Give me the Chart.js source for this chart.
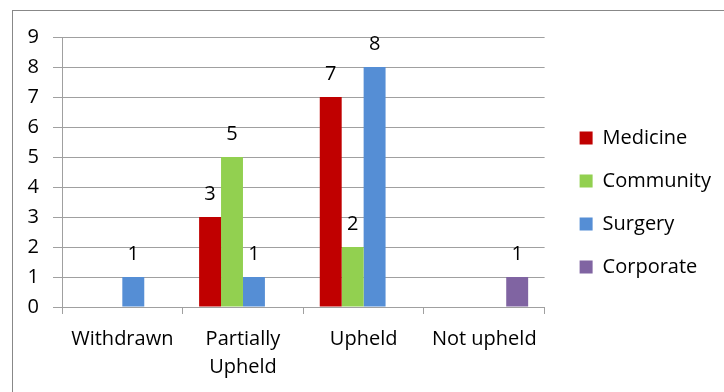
<!DOCTYPE html>
<html>
<head>
<meta charset="utf-8">
<script src="https://cdn.jsdelivr.net/npm/chart.js@4/dist/chart.umd.min.js"></script>
<style>
  html, body { margin: 0; padding: 0; background: #fff; }
</style>
</head>
<body>
<canvas id="complaints" width="724" height="392"></canvas>
<script>
// complaint outcomes by division
const outcomes = [['Withdrawn'], ['Partially', 'Upheld'], ['Upheld'], ['Not upheld']];
const medicine = [null, 3, 7, null];
const community = [null, 5, 2, null];
const surgery = [1, 1, 8, null];
const corporate = [null, null, null, 1];
const yMax = 9;

const FONT = '"Open Sans", sans-serif';
const GRID = '#a0a0a0';

// value printed above each bar
const valueLabels = {
  id: 'valueLabels',
  afterDatasetsDraw(chart) {
    const ctx = chart.ctx;
    ctx.save();
    ctx.font = '20px ' + FONT;
    ctx.fillStyle = '#000';
    ctx.textAlign = 'center';
    ctx.textBaseline = 'middle';
    chart.data.datasets.forEach((ds, i) => {
      chart.getDatasetMeta(i).data.forEach((bar, j) => {
        const v = ds.data[j];
        if (v == null) return;
        ctx.fillText(String(v), bar.x, bar.y - 23);
      });
    });
    ctx.restore();
  }
};

// outer frame + nudge the legend away from the plot
const frame = {
  id: 'frame',
  afterLayout(chart) {
    const lg = chart.legend;
    lg.left += 12; lg.right += 12;
    lg.top -= 12; lg.bottom -= 12;
  },
  beforeDraw(chart) {
    const ctx = chart.ctx;
    ctx.save();
    ctx.strokeStyle = '#888';
    ctx.lineWidth = 1;
    ctx.strokeRect(12.5, 10.5, 760, 420);
    ctx.restore();
  }
};

new Chart(document.getElementById('complaints'), {
  type: 'bar',
  data: {
    labels: outcomes,
    datasets: [
      { label: 'Medicine', data: medicine, backgroundColor: '#c00000' },
      { label: 'Community', data: community, backgroundColor: '#92d050' },
      { label: 'Surgery', data: surgery, backgroundColor: '#558ed5' },
      { label: 'Corporate', data: corporate, backgroundColor: '#8064a2' }
    ]
  },
  options: {
    responsive: false,
    animation: false,
    devicePixelRatio: 1,
    categoryPercentage: 4 / 5.5,
    barPercentage: 1,
    layout: { padding: { top: 37, right: 15, bottom: 0, left: 0 } },
    plugins: {
      tooltip: { enabled: false },
      legend: {
        position: 'right',
        align: 'center',
        labels: {
          boxWidth: 13,
          boxHeight: 13,
          padding: 23,
          color: '#000',
          font: { family: FONT, size: 20 }
        }
      }
    },
    scales: {
      x: {
        afterFit(scale) { scale.height = 85; },
        grid: { drawOnChartArea: false, offset: true, tickLength: 7, color: GRID },
        border: { color: GRID },
        ticks: { color: '#000', padding: 11, font: { family: FONT, size: 20, lineHeight: 1.4 } }
      },
      y: {
        min: 0,
        max: yMax,
        afterFit(scale) { scale.width = 62; },
        grid: { color: GRID, tickLength: 9 },
        border: { color: GRID },
        ticks: { stepSize: 1, color: '#000', padding: 14, font: { family: FONT, size: 20 } }
      }
    }
  },
  plugins: [valueLabels, frame]
});
</script>
</body>
</html>
